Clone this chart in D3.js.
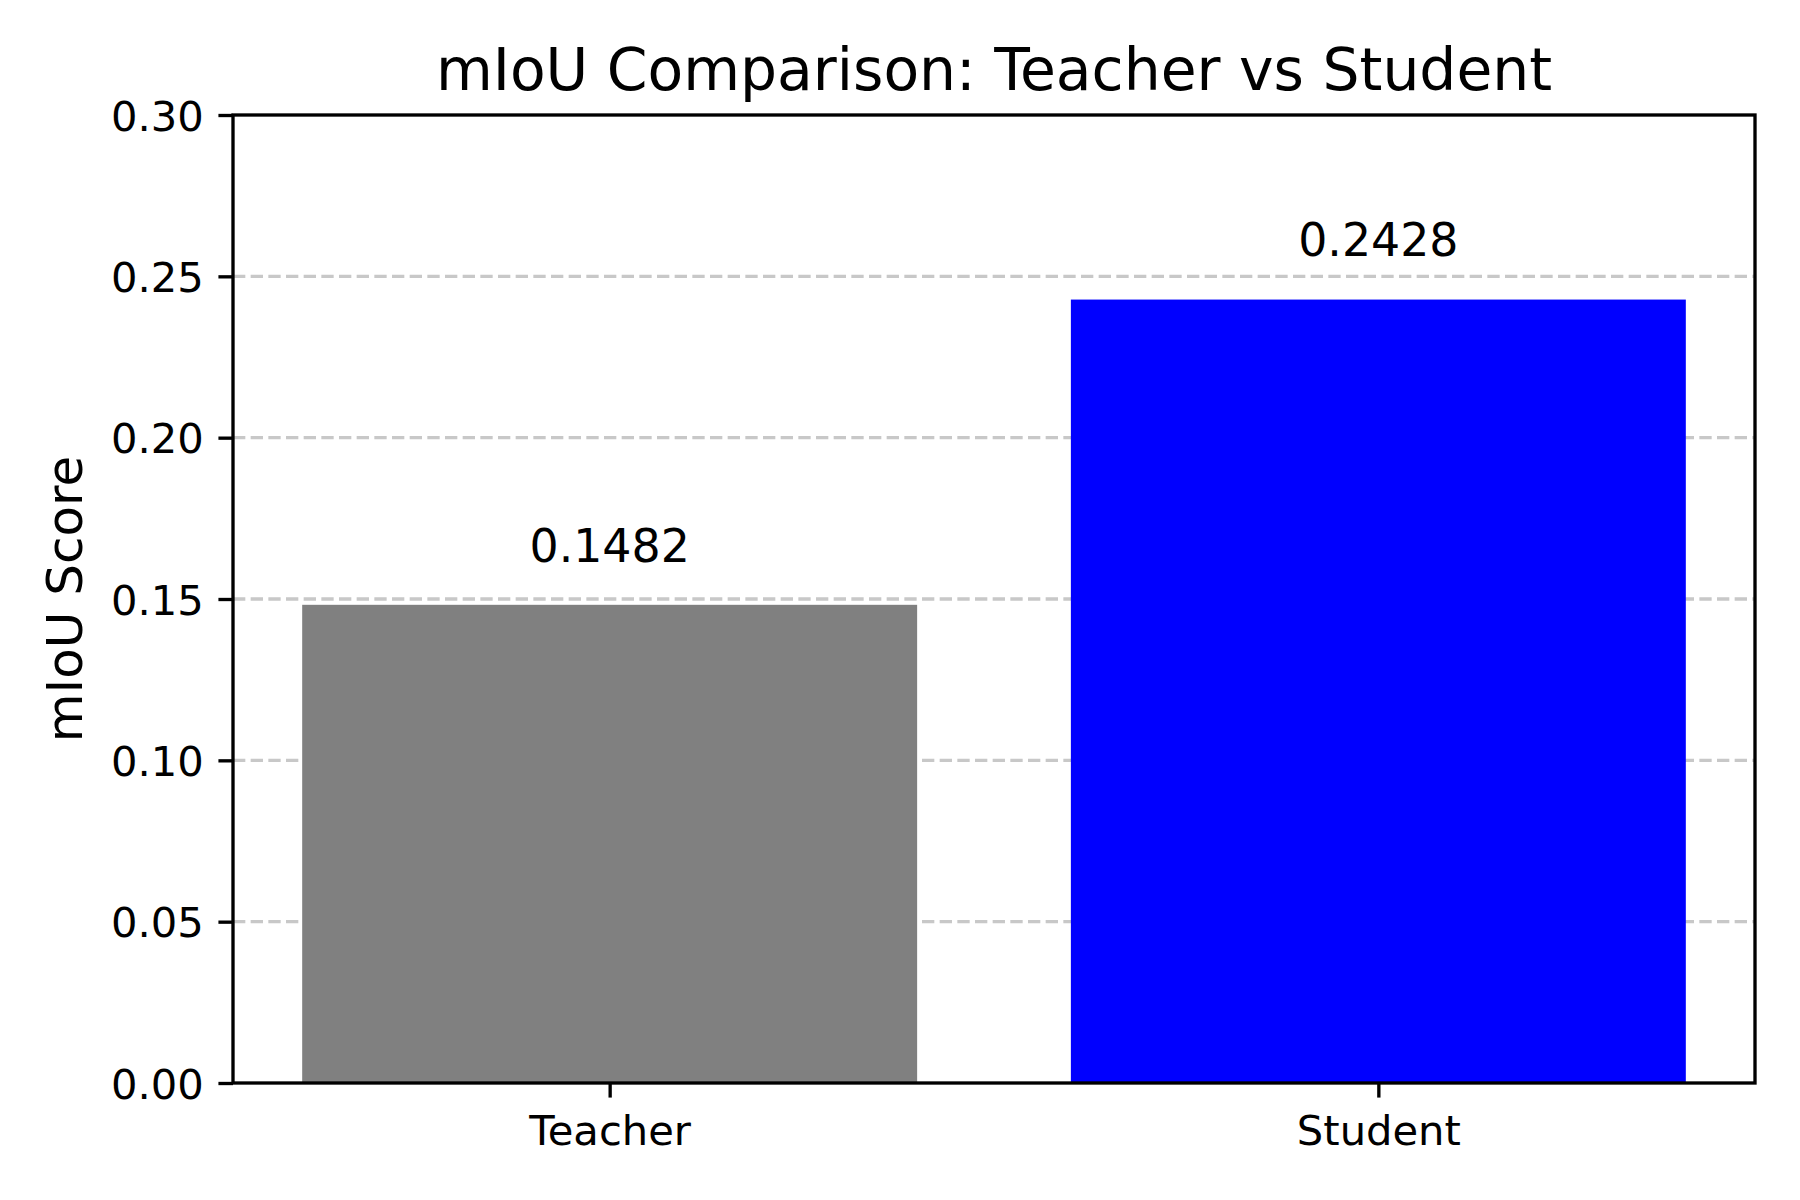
<!DOCTYPE html>
<html>
<head>
<meta charset="utf-8">
<script src="https://cdn.jsdelivr.net/npm/d3@7"></script>
<style>
  html, body { margin: 0; padding: 0; background: #fff; }
  text { font-family: "DejaVu Sans", sans-serif; fill: #000; }
</style>
</head>
<body>
<svg id="chart" width="1800" height="1200"></svg>
<script>
const categories = ["Teacher", "Student"];
const values = [0.1482, 0.2428];
const barColors = ["#808080", "#0000ff"];
const yTicks = [0.00, 0.05, 0.10, 0.15, 0.20, 0.25, 0.30];
const title = "mIoU Comparison: Teacher vs Student";
const yLabel = "mIoU Score";

const svg = d3.select("#chart");
const L = 233, R = 1755, T = 115, B = 1083;
const pt = 300 / 72;

const x = d3.scaleLinear().domain([-0.49, 1.49]).range([L, R]);
const y = d3.scaleLinear().domain([0, 0.30]).range([B, T]);
const barW = 0.8;

// grid
svg.append("g").selectAll("line")
  .data(yTicks.filter(t => t > 0 && t < 0.30))
  .join("line")
  .attr("x1", L).attr("x2", R)
  .attr("y1", d => y(d)).attr("y2", d => y(d))
  .attr("stroke", "#c8c8c8")
  .attr("stroke-width", 0.8 * pt)
  .attr("stroke-dasharray", `${3.7 * 0.8 * pt},${1.6 * 0.8 * pt}`);

// bars
svg.append("g").selectAll("rect")
  .data(values)
  .join("rect")
  .attr("x", (d, i) => x(i - barW / 2))
  .attr("width", (d, i) => x(i + barW / 2) - x(i - barW / 2))
  .attr("y", d => y(d))
  .attr("height", d => B - y(d))
  .attr("fill", (d, i) => barColors[i]);

// value labels
svg.append("g").selectAll("text")
  .data(values)
  .join("text")
  .attr("x", (d, i) => x(i))
  .attr("y", d => y(d + 0.01) - 10.8)
  .attr("text-anchor", "middle")
  .attr("font-size", 11 * pt)
  .text(d => d.toFixed(4));

// axes
const yAxis = d3.axisLeft(y).tickValues(yTicks).tickFormat(d3.format(".2f"))
  .tickSize(3.5 * pt).tickPadding(3.5 * pt);
const gy = svg.append("g").attr("transform", `translate(${L},0)`).call(yAxis);
const xAxis = d3.axisBottom(x).tickValues([0, 1]).tickFormat((d) => categories[d])
  .tickSize(3.5 * pt).tickPadding(3.5 * pt);
const gx = svg.append("g").attr("transform", `translate(0,${B})`).call(xAxis);

[gx, gy].forEach(g => {
  g.select(".domain").remove();
  g.selectAll(".tick line").attr("stroke", "#000").attr("stroke-width", 0.8 * pt);
  g.selectAll(".tick text").attr("font-size", 10 * pt).attr("font-family", "DejaVu Sans").attr("fill", "#000");
});
gy.selectAll(".tick text").attr("dy", "0.36em");
gx.selectAll(".tick text").attr("dy", "0.78em");

// frame
svg.append("rect")
  .attr("x", L).attr("y", T).attr("width", R - L).attr("height", B - T)
  .attr("fill", "none").attr("stroke", "#000").attr("stroke-width", 0.8 * pt);

// title
svg.append("text")
  .attr("x", (L + R) / 2).attr("y", T - 6 * pt)
  .attr("text-anchor", "middle")
  .attr("font-size", 14 * pt)
  .text(title);

// y label
svg.append("text")
  .attr("transform", `translate(82,${(T + B) / 2}) rotate(-90)`)
  .attr("text-anchor", "middle")
  .attr("font-size", 12 * pt)
  .text(yLabel);
</script>
</body>
</html>
